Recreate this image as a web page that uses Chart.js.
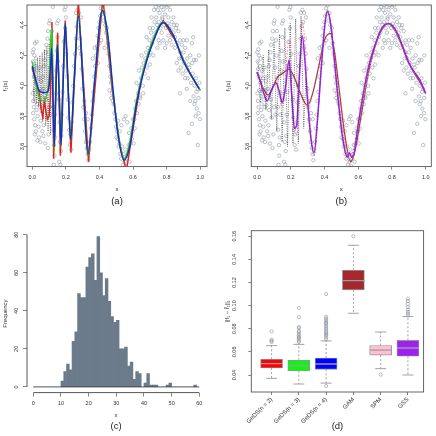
<!DOCTYPE html>
<html><head><meta charset="utf-8">
<script src="https://cdn.jsdelivr.net/npm/chart.js@4.4.0/dist/chart.umd.min.js"></script>
<style>
html,body{margin:0;padding:0;background:#fff;width:436px;height:436px;overflow:hidden}
.p{position:absolute;width:218px;height:218px}
</style></head><body>
<div class="p" style="left:0;top:0"><canvas id="ca" width="218" height="218"></canvas></div>
<div class="p" style="left:218px;top:0"><canvas id="cb" width="218" height="218"></canvas></div>
<div class="p" style="left:0;top:218px"><canvas id="cc" width="218" height="218"></canvas></div>
<div class="p" style="left:218px;top:218px"><canvas id="cd" width="218" height="218"></canvas></div>
<script>
// ---------------- DATA ----------------
// observations (x, y) shown in panels (a) and (b)
const obs = [
[0.002,4.22],[0.004,4.16],[0.006,4.11],[0.008,4.24],[0.01,4.06],[0.012,4.2],[0.014,3.97],[0.016,4.28],[0.018,4.13],[0.02,4.02],
[0.022,4.18],[0.024,3.93],[0.026,4.29],[0.028,3.88],[0.03,4.1],[0.003,3.95],[0.006,3.9],[0.009,3.86],[0.005,3.82],[0.012,3.78],
[0.017,3.74],[0.021,3.7],[0.025,3.84],[0.032,3.8],[0.034,3.97],[0.037,3.73],[0.04,3.66],[0.042,3.91],[0.045,3.86],[0.048,3.63],
[0.05,3.77],[0.052,4.03],[0.055,3.93],[0.057,3.87],[0.06,3.7],[0.062,4.06],[0.064,3.98],[0.066,3.67],[0.068,3.74],[0.07,4.13],
[0.072,3.84],[0.075,4.17],[0.077,3.62],[0.08,4.22],[0.082,3.91],[0.084,4.27],[0.087,3.79],[0.09,4.31],[0.092,3.59],[0.094,4.36],
[0.097,3.68],[0.1,4.41],[0.102,3.86],[0.104,4.43],[0.107,4.12],[0.109,3.81],[0.036,4.05],[0.044,4.12],[0.058,3.97],[0.015,3.68],[0.03,3.64],
[0.112,4.3],[0.115,4.2],[0.118,4.36],[0.12,4.05],[0.122,4.52],[0.124,3.86],[0.126,3.71],[0.128,3.48],[0.13,3.61],[0.132,3.54],
[0.134,3.66],[0.137,3.81],[0.14,3.95],[0.143,4.1],[0.146,4.23],[0.148,4.41],[0.15,4.32],[0.152,4.16],[0.155,4.43],[0.158,3.91],
[0.16,3.5],[0.162,3.76],[0.165,3.63],[0.168,3.48],[0.17,3.57],[0.173,3.67],[0.176,3.81],[0.18,3.96],[0.184,4.13],[0.188,4.29],
[0.192,4.5],[0.195,4.38],[0.198,4.52],[0.2,4.45],[0.203,4.21],[0.207,4.06],[0.211,3.91],[0.215,3.79],[0.219,3.71],[0.223,3.61],
[0.227,3.68],[0.231,3.58],[0.235,3.76],[0.239,3.89],
[0.244,4.0],[0.249,4.13],[0.254,4.21],[0.259,4.31],[0.264,4.39],[0.269,4.5],[0.274,4.42],[0.279,4.48],[0.284,4.31],[0.289,4.21],
[0.294,4.11],[0.299,3.98],[0.304,3.86],[0.309,3.78],[0.314,3.7],[0.319,3.63],[0.324,3.59],[0.329,3.55],[0.334,3.51],[0.339,3.58],
[0.344,3.63],[0.349,3.72],[0.354,3.81],[0.359,3.9],[0.364,3.96],[0.369,4.06],[0.374,4.13],[0.379,4.2],[0.384,4.26],[0.389,4.33],
[0.394,4.38],[0.399,4.42],[0.404,4.46],[0.409,4.51],[0.414,4.47],[0.419,4.53],[0.424,4.43],[0.429,4.48],[0.434,4.4],[0.439,4.35],
[0.444,4.38],[0.449,4.28],[0.36,4.18],[0.372,4.25],[0.33,3.78],[0.32,3.82],[0.39,4.15],[0.41,4.3],[0.43,4.25],[0.4,4.28],
[0.29,4.45],[0.26,4.48],[0.28,4.25],[0.31,3.9],
[0.454,4.21],[0.459,4.13],[0.464,4.06],[0.469,4.02],[0.474,3.95],[0.479,3.9],[0.484,3.88],[0.489,3.82],[0.494,3.78],[0.499,3.73],
[0.504,3.7],[0.509,3.65],[0.514,3.6],[0.519,3.62],[0.524,3.55],[0.529,3.52],[0.534,3.6],[0.539,3.48],[0.544,3.55],[0.549,3.5],
[0.554,3.58],[0.559,3.47],[0.564,3.52],[0.569,3.55],[0.574,3.61],[0.579,3.5],[0.584,3.62],[0.53,3.74],[0.545,3.78],[0.555,3.8],
[0.565,3.76],[0.59,3.72],[0.5,3.66],[0.47,3.92],[0.46,3.97],[0.51,3.77],[0.52,3.7],[0.575,3.69],
[0.592,3.65],[0.598,3.7],[0.603,3.62],[0.608,3.78],[0.613,3.85],[0.618,3.9],[0.623,3.82],[0.628,3.95],[0.633,3.88],[0.638,4.0],
[0.643,3.92],[0.648,4.05],[0.653,4.12],[0.658,4.0],[0.663,4.15],[0.668,4.08],[0.673,4.18],[0.678,4.22],[0.683,4.12],[0.688,4.25],
[0.693,4.2],[0.698,4.3],[0.703,4.22],[0.708,4.35],[0.713,4.28],[0.718,4.38],[0.723,4.32],[0.728,4.42],[0.733,4.35],[0.738,4.45],
[0.743,4.4],[0.748,4.5],[0.753,4.42],[0.758,4.48],[0.763,4.38],[0.768,4.52],[0.773,4.45],[0.64,3.93],[0.66,3.95],[0.69,4.05],
[0.7,4.14],[0.72,4.2],[0.62,4.02],[0.635,4.1],[0.65,4.2],[0.68,4.32],[0.7,4.38],[0.71,4.45],[0.725,4.5],[0.6,3.78],[0.61,3.72],
[0.735,4.52],[0.755,4.53],[0.78,4.5],[0.79,4.47],[0.8,4.52],[0.81,4.45],[0.82,4.5],[0.83,4.42],[0.77,4.35],[0.78,4.3],
[0.8,4.28],[0.82,4.3],[0.84,4.35],[0.86,4.4],[0.85,4.32],[0.87,4.36],[0.88,4.3],[0.76,4.28],[0.745,4.25],[0.752,4.3],
[0.79,4.25],[0.81,4.33],[0.83,4.27],[0.85,4.25],[0.865,4.28],[0.88,4.22],[0.89,4.27],[0.9,4.3],[0.91,4.25],[0.92,4.3],
[0.958,4.32],[0.95,4.28],[0.785,4.4],[0.795,4.38],[0.805,4.41],[0.815,4.39],[0.825,4.37],[0.775,4.44],[0.79,4.53],[0.812,4.53],
[0.84,4.45],[0.845,4.4],[0.855,4.38],[0.835,4.33],
[0.86,4.15],[0.87,4.1],[0.875,4.18],[0.885,4.12],[0.895,4.08],[0.905,4.15],[0.915,4.1],[0.925,4.05],[0.935,4.12],[0.945,4.02],
[0.955,4.08],[0.965,4.0],[0.975,4.05],[0.985,3.98],[0.995,4.02],[0.97,3.9],[0.98,3.85],[0.99,3.82],[0.998,3.78],[0.96,3.93],
[0.95,3.75],[0.972,3.8],[0.985,3.61],[0.93,3.69],[0.88,3.95],[0.92,3.98],[0.94,3.9],[0.962,4.17],[0.975,4.17],[0.992,4.2],
[0.9,4.22],[0.922,4.18],[0.94,4.2],[0.952,4.15],[0.965,3.88],[0.978,3.96],[0.99,3.92],[0.91,4.05],[0.93,4.14],[0.89,4.18]
];
// panel (a) fits
const gedsN2 = [[0,4.12],[0.02,4.02],[0.04,3.96],[0.05,3.87],[0.062,3.79],[0.072,3.9],[0.08,3.84],[0.09,3.78],[0.1,3.8],[0.108,3.93],
[0.117,4.42],[0.127,3.52],[0.151,4.35],[0.167,3.54],[0.196,4.43],[0.23,3.56],[0.274,4.56],[0.335,3.5],[0.42,4.58],[0.475,3.98],
[0.52,3.62],[0.56,3.44],[0.6,3.72],[0.65,4.05],[0.7,4.24],[0.75,4.38],[0.78,4.43],[0.8,4.39],[0.85,4.3],[0.9,4.17],[0.95,4.06],[1,3.97]];
const gedsN3 = [[0,4.16],[0.015,4.05],[0.03,3.96],[0.05,3.91],[0.07,3.9],[0.09,3.96],[0.1,4.05],[0.11,4.32],[0.116,4.38],[0.124,3.95],
[0.131,3.57],[0.14,3.95],[0.149,4.28],[0.16,3.95],[0.171,3.6],[0.183,4.0],[0.196,4.41],[0.212,4.02],[0.228,3.64],[0.25,4.06],
[0.274,4.47],[0.303,4.0],[0.331,3.54],[0.37,4.02],[0.417,4.5],[0.45,4.3],[0.48,3.96],[0.51,3.7],[0.546,3.52],[0.58,3.63],
[0.62,3.9],[0.66,4.1],[0.71,4.28],[0.78,4.42],[0.84,4.33],[0.9,4.17],[0.95,4.06],[1,3.97]];
const gedsN4 = [[0,4.13],[0.02,4.04],[0.04,3.97],[0.065,3.955],[0.09,3.96],[0.1,4.0],[0.108,4.12],[0.115,4.245],[0.123,3.93],[0.131,3.6],
[0.14,3.95],[0.149,4.27],[0.16,3.95],[0.171,3.61],[0.183,4.0],[0.196,4.41],[0.212,4.03],[0.228,3.645],[0.25,4.05],[0.274,4.46],
[0.303,4.0],[0.331,3.55],[0.37,4.02],[0.417,4.495],[0.449,4.34],[0.48,3.98],[0.51,3.68],[0.546,3.51],[0.58,3.6],[0.62,3.88],
[0.66,4.08],[0.71,4.26],[0.78,4.415],[0.84,4.33],[0.9,4.16],[0.95,4.06],[0.994,3.98]];
const truthA = [[0.003,4.14],[0.01,3.89],[0.017,4.16],[0.024,3.88],[0.031,4.18],[0.038,3.86],[0.045,4.2],[0.052,3.82],[0.059,4.22],
[0.066,3.78],[0.073,4.24],[0.08,3.74],[0.087,4.26],[0.094,3.7],[0.101,4.28],[0.108,3.68],[0.114,4.1]];
// panel (b) fits
const gssFit = [[0,4.09],[0.02,4.03],[0.04,3.95],[0.06,3.9],[0.085,3.97],[0.112,4.02],[0.13,3.97],[0.15,3.89],[0.17,4.0],[0.19,4.17],
[0.205,3.95],[0.222,3.72],[0.235,3.74],[0.25,4.05],[0.268,4.33],[0.285,4.15],[0.3,3.9],[0.32,3.65],[0.338,3.56],[0.36,3.8],
[0.38,4.1],[0.4,4.38],[0.418,4.49],[0.44,4.38],[0.46,4.15],[0.48,3.92],[0.5,3.72],[0.52,3.58],[0.535,3.53],[0.548,3.56],
[0.56,3.53],[0.575,3.55],[0.6,3.75],[0.63,3.95],[0.66,4.12],[0.7,4.27],[0.74,4.38],[0.78,4.41],[0.82,4.37],[0.86,4.27],
[0.9,4.15],[0.94,4.07],[0.97,4.02],[1,3.95]];
const gamFit = [[0,4.09],[0.03,4.0],[0.065,3.94],[0.09,3.98],[0.124,4.06],[0.15,4.08],[0.19,4.11],[0.22,4.06],[0.25,3.97],[0.3,3.87],
[0.33,3.95],[0.37,4.15],[0.4,4.3],[0.435,4.345],[0.46,4.22],[0.49,3.95],[0.52,3.68],[0.555,3.5],[0.58,3.57],[0.62,3.82],
[0.66,4.08],[0.7,4.26],[0.74,4.37],[0.78,4.41],[0.82,4.36],[0.86,4.26],[0.9,4.15],[0.94,4.08],[0.97,4.03],[1,3.95]];
const spmFit = [[0,4.08],[0.03,4.0],[0.06,3.9],[0.09,3.98],[0.113,4.04],[0.15,3.86],[0.19,4.3],[0.215,3.78],[0.235,3.68],[0.27,4.42],
[0.3,3.96],[0.338,3.54],[0.38,4.12],[0.418,4.5],[0.48,3.94],[0.55,3.52],[0.62,3.86],[0.7,4.27],[0.78,4.41],[0.86,4.27],[0.94,4.07],[1,3.95]];
const truthB = [[0.005,4.16],[0.021,3.89],[0.037,4.2],[0.053,3.84],[0.069,4.24],[0.085,3.78],[0.101,4.29],[0.117,3.7],[0.133,4.34],
[0.149,3.63],[0.165,4.38],[0.181,3.6],[0.197,4.41],[0.213,3.62],[0.229,4.44],[0.245,3.62],[0.261,4.46],[0.277,3.72],[0.29,4.05]];
const truthBSmooth = [[0.29,4.05],[0.31,3.75],[0.338,3.54],[0.38,4.12],[0.418,4.5],[0.46,4.17],[0.5,3.72],[0.548,3.5],[0.6,3.74],
[0.66,4.1],[0.72,4.33],[0.78,4.42],[0.84,4.33],[0.9,4.16],[0.95,4.06],[1,3.95]];
// panel (c) histogram: counts for bins [k, k+1), k = 0..59
const histCounts = [0,0,0,0,0,0,0,0,0,0, 3,8,12,9,24,29,49,47,47,63, 68,70,56,79,60,48,57,45,37,34,
                    35,20,20,21,11,13,4,8,7,0, 2,7,1,1,1,0,0,0,1,2, 0,0,0,0,0,0,0,0,1,0];
// panel (d) boxplots
const boxNames = ['GeDS(n = 2)','GeDS(n = 3)','GeDS(n = 4)','GAM','SPM','GSS'];
const boxLo  = [0.0371,0.0322,0.0330,0.0934,0.0455,0.0400];
const boxQ1  = [0.0461,0.0437,0.0449,0.1136,0.0572,0.0562];
const boxMed = [0.0498,0.0480,0.0495,0.1216,0.0615,0.0634];
const boxQ3  = [0.0536,0.0527,0.0547,0.1306,0.0655,0.0700];
const boxHi  = [0.0654,0.0665,0.0695,0.1522,0.0772,0.0905];
const boxOut = [
  [0.0685,0.0695,0.0705,0.0778],
  [0.0685,0.0695,0.071,0.072,0.073,0.074,0.0755,0.077,0.078,0.0805,0.0815,0.090,0.098],
  [0.071,0.0725,0.074,0.075,0.076,0.077,0.0785,0.080,0.081,0.0825,0.084,0.085,0.086,0.0875,0.089,0.0905,0.110,0.0305],
  [0.160],
  [0.0403],
  [0.0915,0.093,0.0945,0.0965,0.0985,0.1015,0.104,0.106]
];
// ticks
const ticksXab = [0,0.2,0.4,0.6,0.8,1.0];
const ticksYab = [3.6,3.8,4.0,4.2,4.4];
const ticksXc = [0,10,20,30,40,50,60];
const ticksYc = [0,20,40,60,80];
const ticksYd = [0.04,0.06,0.08,0.10,0.12,0.14,0.16];

// ---------------- RENDER ----------------
const FONT = '"Liberation Sans", Arial, sans-serif';
Chart.defaults.font.family = FONT;
Chart.defaults.color = '#333';
Chart.defaults.animation = false;
Chart.defaults.plugins.legend.display = false;
Chart.defaults.plugins.tooltip.enabled = false;
const P = a => a.map(([x, y]) => ({x, y}));

const boxFrame = {id: 'boxFrame', afterDatasetsDraw(chart) {
  const a = chart.chartArea, c = chart.ctx;
  c.save(); c.strokeStyle = '#555'; c.lineWidth = 0.9;
  c.strokeRect(a.left, a.top, a.right - a.left, a.bottom - a.top); c.restore();
}};
const rAxes = {id: 'rAxes', afterDatasetsDraw(chart) {
  const a = chart.chartArea, c = chart.ctx, xs = chart.scales.x, ys = chart.scales.y;
  c.save(); c.strokeStyle = '#444'; c.lineWidth = 0.9; c.beginPath();
  c.moveTo(xs.getPixelForValue(ticksXc[0]), a.bottom); c.lineTo(xs.getPixelForValue(ticksXc[ticksXc.length-1]), a.bottom);
  c.moveTo(a.left, ys.getPixelForValue(ticksYc[0])); c.lineTo(a.left, ys.getPixelForValue(ticksYc[ticksYc.length-1]));
  c.stroke(); c.restore();
}};

function yAxis(min, max, ticks, fmt, width, labelPad, title, titlePad, tl) {
  return {type: 'linear', min, max,
    afterBuildTicks: s => { s.ticks = ticks.map(v => ({value: v})); },
    afterFit: s => { s.width = width; s.paddingTop = 0; s.paddingBottom = 0; },
    ticks: {autoSkip: false, minRotation: 90, maxRotation: 90, crossAlign: 'center', padding: labelPad,
      font: {size: 5.5}, color: '#333', callback: v => fmt(v)},
    grid: {drawOnChartArea: false, drawTicks: true, tickLength: tl, color: '#555', lineWidth: 0.7},
    border: {display: false},
    title: {display: !!title, text: title, font: {size: 6}, color: '#333', padding: {top: titlePad, bottom: 0}}
  };
}
function xAxis(min, max, ticks, fmt, height, labelPad, title, titlePad, tl, rot, fsize, titleFont) {
  return {type: 'linear', min, max, offset: false,
    afterBuildTicks: s => { s.ticks = ticks.map(v => ({value: v})); },
    afterFit: s => { s.height = height; s.paddingLeft = 0; s.paddingRight = 0; },
    ticks: {autoSkip: false, minRotation: rot, maxRotation: rot, padding: labelPad,
      font: {size: fsize || 5.5}, color: '#333', callback: v => fmt(v)},
    grid: {drawOnChartArea: false, drawTicks: true, tickLength: tl, color: '#555', lineWidth: 0.7, offset: false},
    border: {display: false},
    title: {display: !!title, text: title, font: titleFont || {size: 6}, color: titleFont ? '#222' : '#333',
      padding: {top: 0, bottom: titlePad}}
  };
}
function panelTitle(t, pb) {
  return {display: true, text: t, position: 'bottom', fullSize: false, font: {size: 9.5, weight: 'normal', family: FONT},
    color: '#222', padding: {top: 0, bottom: pb}};
}
const obsDs = {type: 'scatter', data: P(obs), pointRadius: 1.7, pointBorderWidth: 0.6,
  pointBackgroundColor: 'rgba(0,0,0,0)', pointBorderColor: '#8f98a6', order: 9};
const lineDs = (data, color, w, extra) => Object.assign({type: 'line', data: P(data), borderColor: color,
  borderWidth: w, pointRadius: 0, fill: false, cubicInterpolationMode: 'monotone'}, extra || {});

// Panel (a)
new Chart(document.getElementById('ca'), {
  type: 'scatter',
  data: {datasets: [
    lineDs(gedsN4, '#1b2dc4', 1.5, {order: 0}),
    lineDs(gedsN3, '#2fd02f', 1.5, {order: 1}),
    lineDs(gedsN2, '#e3201c', 1.4, {order: 2, cubicInterpolationMode: 'default', tension: 0}),
    lineDs(truthA, '#1a1a1a', 0.7, {order: 3, cubicInterpolationMode: 'default', tension: 0, borderDash: [0.8, 1.4]}),
    obsDs
  ]},
  options: {responsive: false, layout: {padding: {left: 0, right: 11, top: 5, bottom: 0}},
    scales: {
      x: xAxis(-0.0315, 1.04, ticksXab, v => v.toFixed(1), 29, 5, 'x', 2.4, 3, 0),
      y: yAxis(3.468, 4.532, ticksYab, v => v.toFixed(1), 27, -2.8, 'f\u2081(x)', 1.4, 3)
    },
    plugins: {title: panelTitle('(a)', 11)}},
  plugins: [boxFrame]
});

// Panel (b)
new Chart(document.getElementById('cb'), {
  type: 'scatter',
  data: {datasets: [
    lineDs(truthB, '#1a1a1a', 0.7, {order: 0, cubicInterpolationMode: 'default', tension: 0, borderDash: [0.8, 1.4]}),
    lineDs(truthBSmooth, '#333', 0.6, {order: 1, borderDash: [0.8, 2]}),
    lineDs(gssFit, '#9a28e6', 1.5, {order: 2}),
    lineDs(spmFit, '#f28cb1', 1.0, {order: 3, borderDash: [2, 1.5]}),
    lineDs(gamFit, '#b0403a', 1.3, {order: 4}),
    obsDs
  ]},
  options: {responsive: false, layout: {padding: {left: 0, right: 4.7, top: 5, bottom: 0}},
    scales: {
      x: xAxis(-0.0338, 1.0332, ticksXab, v => v.toFixed(1), 29, 5, 'x', 2.4, 3, 0),
      y: yAxis(3.468, 4.532, ticksYab, v => v.toFixed(1), 33.3, -3.5, 'f\u2081(x)', 6.4, 3)
    },
    plugins: {title: panelTitle('(b)', 11)}},
  plugins: [boxFrame]
});

// Panel (c)
const histData = histCounts.map((c, k) => ({x: k + 0.5, y: c})).filter(d => d.y > 0);
new Chart(document.getElementById('cc'), {
  type: 'bar',
  data: {datasets: [
    {type: 'line', data: [{x: ticksXc[0], y: 0}, {x: ticksXc[ticksXc.length-1], y: 0}], borderColor: '#3a3f48',
      borderWidth: 0.9, pointRadius: 0, order: 0},
    {type: 'bar', data: histData, backgroundColor: '#6c7b8b', borderWidth: 0, barPercentage: 1,
      categoryPercentage: 1, order: 1}
  ]},
  options: {responsive: false, layout: {padding: {left: 0, right: 13, top: 16.7, bottom: 0}},
    scales: {
      x: xAxis(-2.28, 62.06, ticksXc, v => String(v), 28, 3.3, 'x', 1.4, 4, 0),
      y: yAxis(-2.99, 80, ticksYc, v => String(v), 27, 3.95, 'Frequency', 1.4, 4)
    },
    plugins: {title: panelTitle('(c)', 4)}},
  plugins: [rAxes]
});

// Panel (d)
const boxFill = ['#ff0000', '#00ff00', '#0000ff', '#a5282b', '#ffc0cb', '#a020f0'];
const whisk = [], caps = [], meds = [], outs = [], boxes = [];
boxNames.forEach((n, i) => {
  const x = i + 1;
  boxes.push({x, y: [boxQ1[i], boxQ3[i]]});
  whisk.push({x, y: boxQ3[i]}, {x, y: boxHi[i]}, {x, y: null}, {x, y: boxQ1[i]}, {x, y: boxLo[i]}, {x, y: null});
  caps.push({x, y: boxHi[i]}, {x, y: boxLo[i]});
  meds.push({x, y: boxMed[i]});
  boxOut[i].forEach(v => outs.push({x, y: v}));
});
new Chart(document.getElementById('cd'), {
  type: 'bar',
  data: {datasets: [
    {type: 'scatter', data: meds, pointStyle: 'line', pointRadius: 11, pointBorderWidth: 1.4,
      pointBorderColor: '#9a9aa8', order: 0},
    {type: 'scatter', data: caps, pointStyle: 'line', pointRadius: 5.5, pointBorderWidth: 0.8,
      pointBorderColor: '#8a8a8a', order: 1},
    {type: 'scatter', data: outs, pointRadius: 1.6, pointBorderWidth: 0.6, pointBackgroundColor: 'rgba(0,0,0,0)',
      pointBorderColor: '#8a909c', order: 1},
    {type: 'bar', data: boxes, backgroundColor: boxFill, borderColor: '#8e95a6', borderWidth: 0.9,
      borderSkipped: false, barThickness: 22, order: 2},
    {type: 'line', data: whisk, borderColor: '#8a8a8a', borderWidth: 0.8, borderDash: [2, 2],
      pointRadius: 0, spanGaps: false, order: 3}
  ]},
  options: {responsive: false, layout: {padding: {left: 0, right: 8.7, top: 12.7, bottom: 0}},
    scales: {
      x: xAxis(0.257, 6.574, [1, 2, 3, 4, 5, 6], v => boxNames[Math.round(v) - 1] || '', 44, 1, '(d)', 4.3, 3, 45, 6,
        {size: 9.5, family: FONT}),
      y: yAxis(0.0253, 0.1648, ticksYd, v => v.toFixed(2), 33.3, 8.45, '||f\u2081 \u2212 f\u0302\u2081||\u2081', 5.4, 3)
    }},
  plugins: [boxFrame]
});
</script>
</body></html>
